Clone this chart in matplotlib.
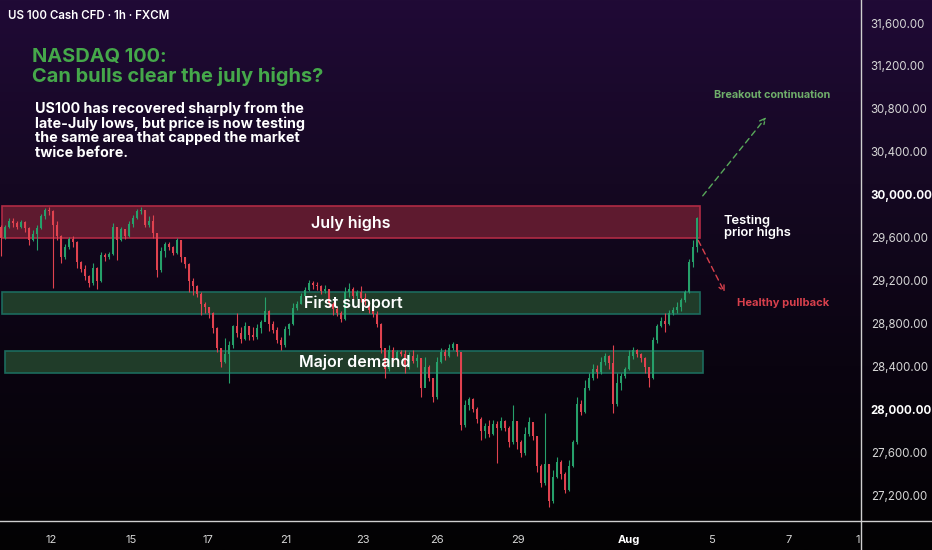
import numpy as np
import matplotlib
matplotlib.use("Agg")
import matplotlib.pyplot as plt  # noqa: E402
from matplotlib.colors import LinearSegmentedColormap  # noqa: E402
from matplotlib.lines import Line2D  # noqa: E402
from matplotlib.patches import Rectangle  # noqa: E402

plt.rcParams["font.family"] = ["Inter", "DejaVu Sans"]

W, H = 932, 550

HEADER = "US 100 Cash CFD \u00b7 1h \u00b7 FXCM"
TITLE = ["NASDAQ 100:", "Can bulls clear the july highs?"]
BODY = ["US100 has recovered sharply from the",
        "late-July lows, but price is now testing",
        "the same area that capped the market",
        "twice before."]

# hourly-ish candles (open = previous close)
first_open = 29700
close = [29600, 29700, 29760, 29740, 29700, 29750, 29690, 29580, 29640, 29690,
         29800, 29860, 29850, 29720, 29620, 29420, 29520, 29590, 29560, 29380,
         29310, 29250, 29180, 29320, 29200, 29440, 29420, 29450, 29700, 29580,
         29680, 29620, 29730, 29790, 29850, 29860, 29720, 29760, 29650, 29300,
         29480, 29540, 29520, 29460, 29580, 29420, 29360, 29200, 29150, 29080,
         28990, 28960, 28900, 28760, 28580, 28450, 28520, 28600, 28780, 28720,
         28660, 28780, 28700, 28680, 28760, 28820, 28920, 28800, 28740, 28650,
         28600, 28750, 28800, 28950, 28990, 29060, 29120, 29180, 29160, 29150,
         29110, 29130, 28990, 28940, 28900, 28850, 29100, 29130, 29060, 29100,
         29040, 29000, 28930, 28890, 28800, 28580, 28380, 28560, 28480, 28540,
         28520, 28400, 28500, 28460, 28480, 28200, 28400, 28300, 28120, 28450,
         28540, 28500, 28580, 28610, 28540, 27860, 28050, 28100, 28010, 27920,
         27800, 27850, 27780, 27870, 27830, 27900, 27830, 27700, 27900, 27700,
         27600, 27780, 27890, 27760, 27480, 27320, 27500, 27150, 27380, 27520,
         27400, 27260, 27480, 27700, 28060, 27980, 28200, 28300, 28380, 28350,
         28450, 28500, 28440, 28060, 28250, 28320, 28380, 28500, 28560, 28520,
         28480, 28400, 28300, 28650, 28780, 28830, 28800, 28900, 28930, 28960,
         29020, 29100, 29380, 29520, 29790]
high = [29720, 29720, 29790, 29785, 29760, 29770, 29760, 29700, 29670, 29720,
        29820, 29880, 29890, 29860, 29760, 29630, 29540, 29610, 29620, 29570,
        29390, 29350, 29260, 29365, 29330, 29470, 29460, 29470, 29740, 29700,
        29700, 29680, 29760, 29810, 29870, 29890, 29860, 29800, 29810, 29650,
        29520, 29560, 29560, 29530, 29600, 29580, 29420, 29370, 29230, 29160,
        29095, 29000, 28960, 28910, 28770, 28580, 28670, 28640, 28790, 28900,
        28770, 28820, 28780, 28770, 28800, 28835, 29050, 28930, 28830, 28770,
        28680, 28780, 28810, 28995, 29010, 29090, 29145, 29210, 29200, 29190,
        29160, 29160, 29130, 29000, 28960, 28925, 29145, 29180, 29145, 29120,
        29150, 29090, 29010, 28955, 28925, 28810, 28560, 28605, 28590, 28560,
        28560, 28560, 28540, 28560, 28520, 28480, 28490, 28420, 28300, 28490,
        28575, 28570, 28610, 28630, 28610, 28540, 28090, 28120, 28110, 28030,
        27935, 27880, 27905, 27905, 27900, 27935, 27905, 27850, 28045, 27900,
        27720, 27840, 27930, 27880, 27760, 27500, 27970, 27500, 27440, 27560,
        27530, 27420, 27535, 27720, 28120, 28090, 28275, 28340, 28430, 28420,
        28490, 28530, 28510, 28600, 28345, 28345, 28400, 28555, 28585, 28570,
        28530, 28490, 28400, 28680, 28800, 28865, 28900, 28930, 28955, 29000,
        29040, 29115, 29400, 29580, 29795]
low = [29430, 29590, 29690, 29700, 29680, 29690, 29660, 29535, 29570, 29490,
       29680, 29780, 29810, 29135, 29580, 29370, 29400, 29500, 29520, 29320,
       29280, 29210, 29145, 29160, 29130, 29190, 29390, 29400, 29440, 29395,
       29570, 29590, 29610, 29700, 29780, 29820, 29700, 29700, 29600, 29235,
       29280, 29420, 29490, 29440, 29450, 29375, 29320, 29095, 29070, 29050,
       28880, 28900, 28860, 28720, 28540, 28400, 28440, 28250, 28580, 28680,
       28620, 28650, 28650, 28650, 28660, 28715, 28830, 28730, 28720, 28620,
       28560, 28590, 28700, 28790, 28930, 28990, 29050, 29110, 29130, 29120,
       29080, 29090, 28955, 28880, 28870, 28815, 28840, 29050, 29020, 29030,
       29000, 28980, 28900, 28865, 28770, 28530, 28300, 28360, 28450, 28470,
       28500, 28345, 28380, 28440, 28400, 28120, 28300, 28270, 28070, 28100,
       28440, 28465, 28490, 28555, 28500, 27815, 27840, 28000, 27980, 27880,
       27720, 27740, 27750, 27770, 27510, 27810, 27800, 27655, 27680, 27640,
       27560, 27580, 27760, 27720, 27420, 27280, 27300, 27100, 27130, 27370,
       27360, 27225, 27250, 27470, 27680, 27950, 27970, 28190, 28280, 28300,
       28330, 28420, 28380, 27970, 28040, 28185, 28300, 28370, 28470, 28490,
       28445, 28345, 28215, 28290, 28620, 28770, 28725, 28790, 28880, 28900,
       28925, 29000, 29090, 29330, 29470]

zone_names = ["July highs", "First support", "Major demand"]
zone_lo = [29600, 28890, 28340]
zone_hi = [29900, 29100, 28550]

x_tick_pos = [12.5, 32.5, 51.75, 71.25, 90.5, 109, 129.25, 157, 177.5, 197, 214.2]
x_tick_lab = ["12", "15", "17", "21", "23", "26", "29", "Aug", "5", "7", "1"]
y_ticks = [27200, 27600, 28000, 28400, 28800, 29200, 29600, 30000,
           30400, 30800, 31200, 31600]

GREEN, RED = "#26a06a", "#e0424f"


def px(x, y):
    return x / W, 1 - y / H


fig = plt.figure(figsize=(W / 100, H / 100), dpi=100)

# background gradient
bg = fig.add_axes([0, 0, 1, 1], zorder=-10)
cmap = LinearSegmentedColormap.from_list(
    "bg", ["#200a36", "#150822", "#0a0410", "#030203"])
bg.imshow(np.linspace(0, 1, 256)[:, None], aspect="auto", cmap=cmap,
          extent=[0, 1, 0, 1])
bg.set_axis_off()

ax = fig.add_axes([0, 29 / H, 861 / W, 521 / H])
ax.patch.set_alpha(0)
ax.set_xlim(-0.25, 215.0)
ax.set_ylim(26967, 31814)
for s in ax.spines.values():
    s.set_visible(False)

# zones
zone_face = ["#5e1a2f", "#203c29", "#203c29"]
zone_edge = ["#b02a44", "#1c6b5d", "#1c6b5d"]
zone_x0 = [0.25, 0.25, 1.0]
zone_x1 = [174.75, 174.75, 175.5]
for i in range(3):
    ax.add_patch(Rectangle((zone_x0[i], zone_lo[i]), zone_x1[i] - zone_x0[i],
                           zone_hi[i] - zone_lo[i], facecolor=zone_face[i],
                           edgecolor=zone_edge[i], lw=1.2, zorder=1))

# candles
opens = [first_open] + close[:-1]
idx = np.arange(len(close))
cols = [GREEN if c >= o else RED for o, c in zip(opens, close)]
ax.vlines(idx, low, high, colors=cols, lw=0.8, zorder=2)
bottoms = [min(o, c) for o, c in zip(opens, close)]
heights = [max(abs(c - o), 8) for o, c in zip(opens, close)]
ax.bar(idx, heights, bottom=bottoms, width=0.55, color=cols, lw=0, zorder=3)

# zone labels
label_y = [29740, 28995, 28447]
label_x = [87.5, 88.0, 88.5]
for i in range(3):
    ax.text(label_x[i], label_y[i], zone_names[i], color="white",
            fontsize=11.5, fontweight="semibold", ha="center", va="center",
            zorder=5)

# scenario arrows
ax.annotate("", xy=(191.75, 30744), xytext=(175.0, 29972),
            arrowprops=dict(arrowstyle="->", color="#58a85a", lw=1.0,
                            linestyle=(0, (4, 3))))
ax.annotate("", xy=(181.25, 29070), xytext=(174.0, 29600),
            arrowprops=dict(arrowstyle="->", color="#d8404c", lw=1.0,
                            linestyle=(0, (4, 3))))
ax.text(192.75, 30930, "Breakout continuation", color="#6fae6a",
        fontsize=7.8, fontweight="bold", ha="center", va="center")
ax.text(195.5, 28995, "Healthy pullback", color="#d8404c",
        fontsize=8, fontweight="bold", ha="center", va="center")
ax.text(180.75, 29702, "Testing\nprior highs", color="white", fontsize=9.3,
        fontweight="semibold", ha="left", va="center", linespacing=1.0)

# axes ticks
ax.set_xticks(x_tick_pos)
ax.set_xticklabels(x_tick_lab)
ax.tick_params(axis="x", length=0, pad=10, labelsize=8, colors="#d6d6d6")
for t in ax.get_xticklabels():
    if t.get_text() == "Aug":
        t.set_fontweight("bold")
        t.set_color("white")
ax.yaxis.tick_right()
ax.set_yticks(y_ticks)
ax.set_yticklabels([f"{v:,.2f}" for v in y_ticks])
ax.tick_params(axis="y", length=0, pad=7, labelsize=8.3, colors="#d6d6d6")
for t in ax.get_yticklabels():
    if t.get_text() in ("30,000.00", "28,000.00"):
        t.set_fontweight("bold")
        t.set_color("white")

# pane borders
fig.add_artist(Line2D([861 / W, 861 / W], [0, 1], color="#cfcfcf", lw=1.0))
fig.add_artist(Line2D([0, 1], [1 - 521 / H, 1 - 521 / H], color="#cfcfcf", lw=1.0))

# headline text
fig.text(*px(8, 19), HEADER, color="white", fontsize=8.3, fontweight="semibold",
         va="baseline")
fig.text(*px(32, 62), TITLE[0], color="#45a84a", fontsize=14.4,
         fontweight="bold", va="baseline")
fig.text(*px(32, 82), TITLE[1], color="#45a84a", fontsize=14.4,
         fontweight="bold", va="baseline")
for k, line in enumerate(BODY):
    fig.text(*px(35, 113 + 14.7 * k), line, color="white", fontsize=10.3,
             fontweight="bold", va="baseline")

fig.savefig("out.png", dpi=100, facecolor="black")
